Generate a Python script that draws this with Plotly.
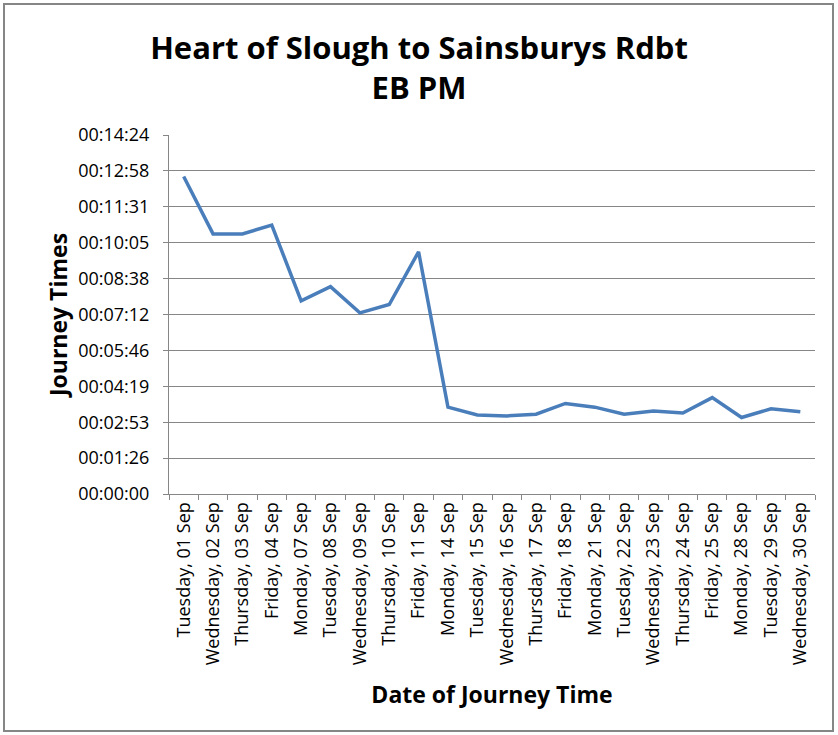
import plotly.graph_objects as go

categories = [
    "Tuesday, 01 Sep", "Wednesday, 02 Sep", "Thursday, 03 Sep", "Friday, 04 Sep",
    "Monday, 07 Sep", "Tuesday, 08 Sep", "Wednesday, 09 Sep", "Thursday, 10 Sep",
    "Friday, 11 Sep", "Monday, 14 Sep", "Tuesday, 15 Sep", "Wednesday, 16 Sep",
    "Thursday, 17 Sep", "Friday, 18 Sep", "Monday, 21 Sep", "Tuesday, 22 Sep",
    "Wednesday, 23 Sep", "Thursday, 24 Sep", "Friday, 25 Sep", "Monday, 28 Sep",
    "Tuesday, 29 Sep", "Wednesday, 30 Sep",
]
# journey times in seconds
journey_seconds = [
    764, 626, 626, 647, 465, 499, 436, 456, 583, 209, 190, 188,
    192, 218, 209, 192, 200, 195, 232, 184, 205, 198,
]
y_tick_seconds = [0, 86.4, 172.8, 259.2, 345.6, 432, 518.4, 604.8, 691.2, 777.6, 864]
y_tick_labels = [
    "00:00:00", "00:01:26", "00:02:53", "00:04:19", "00:05:46", "00:07:12",
    "00:08:38", "00:10:05", "00:11:31", "00:12:58", "00:14:24",
]

W, H = 838, 735
L, R, T, B = 169, 23, 135, 241
FONT = "Open Sans"

fig = go.Figure()
fig.add_trace(go.Scatter(
    x=categories, y=journey_seconds, mode="lines",
    line=dict(color="#4a7ebb", width=3.5), showlegend=False,
))

pw = W - L - R
ph = H - T - B
fig.add_shape(
    type="rect", xref="paper", yref="paper",
    x0=(4 - L) / pw, x1=(833 - L) / pw,
    y0=(H - 731 - B) / ph, y1=(H - 4 - B) / ph,
    line=dict(color="#868686", width=2), layer="below",
)

fig.update_layout(
    width=W, height=H,
    margin=dict(l=L, r=R, t=T, b=B),
    paper_bgcolor="white", plot_bgcolor="white",
    font=dict(family=FONT, color="#000000"),
    title=dict(
        text="<b>Heart of Slough to Sainsburys Rdbt<br>EB PM</b>",
        x=0.5, xanchor="center", y=1 - 59 / H, yanchor="middle",
        font=dict(size=31, family=FONT, color="#000000"),
    ),
    xaxis=dict(
        type="category", tickangle=-90, tickfont=dict(size=18, color="#000000"),
        showline=True, linecolor="#868686", linewidth=1,
        ticks="outside", ticklen=5, tickcolor="#868686", tickson="boundaries",
        showgrid=False, range=[-0.5, len(categories) - 0.5],
        title=dict(text="<b>Date of Journey Time</b>", font=dict(size=23, family=FONT), standoff=22),
    ),
    yaxis=dict(
        range=[0, 864], tickvals=y_tick_seconds, ticktext=y_tick_labels,
        tickfont=dict(size=18, color="#000000"), ticklabelstandoff=10,
        showline=True, linecolor="#868686", linewidth=1,
        ticks="outside", ticklen=5, tickcolor="#868686",
        showgrid=True, gridcolor="#868686", gridwidth=1, zeroline=False,
        title=dict(text="<b>Journey Times</b>", font=dict(size=23, family=FONT), standoff=4),
    ),
)

fig.write_html(
    "out.html",
    config={"displayModeBar": False},
    post_script="document.body.style.margin='0';document.body.style.overflow='hidden';",
)
